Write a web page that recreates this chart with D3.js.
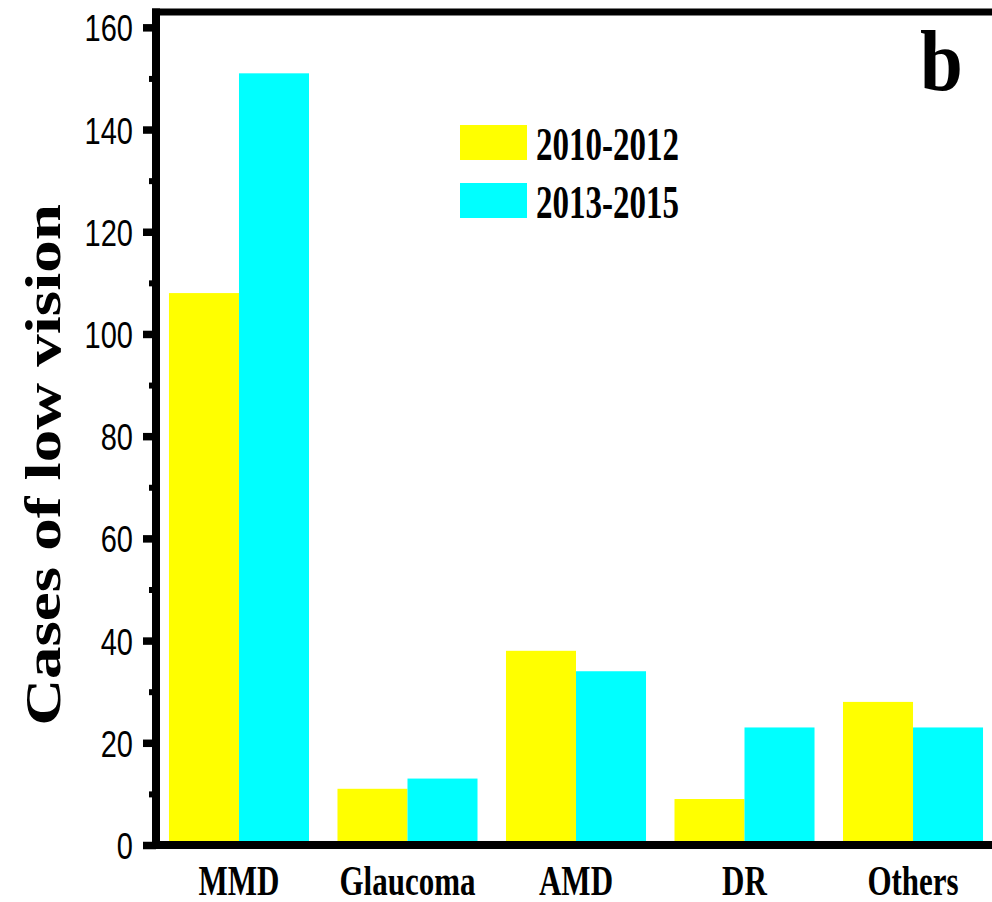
<!DOCTYPE html>
<html>
<head>
<meta charset="utf-8">
<script src="https://cdn.jsdelivr.net/npm/d3@7/dist/d3.min.js"></script>
<style>
  html, body { margin: 0; padding: 0; background: #fff; }
  svg { display: block; }
</style>
</head>
<body>
<svg id="chart" width="992" height="902"></svg>
<script>
// Low-vision cases by cause, two periods
const categories = ["MMD", "Glaucoma", "AMD", "DR", "Others"];
const seriesNames = ["2010-2012", "2013-2015"];
const values2010_2012 = [108, 11, 38, 9, 28];
const values2013_2015 = [151, 13, 34, 23, 23];
const majorTicks = [0, 20, 40, 60, 80, 100, 120, 140, 160];
const minorTicks = [10, 30, 50, 70, 90, 110, 130, 150];
const colors = ["#FFFF00", "#00FFFF"];

const seriesValues = [values2010_2012, values2013_2015];
const rows = categories.map((c, i) => ({
  category: c,
  values: seriesNames.map((s, k) => ({ series: s, value: seriesValues[k][i], color: colors[k] }))
}));

const svg = d3.select("#chart");
const axisX = 156, axisBottom = 845, frameTop = 12;
const serif = "'Liberation Serif','Times New Roman',Times,serif";
const sans = "'Liberation Sans',Arial,Helvetica,sans-serif";

const y = d3.scaleLinear().domain([0, 163]).range([axisBottom, frameTop]);
const x = d3.scaleBand().domain(categories).range([axisX, 996])
  .paddingInner(0.169).paddingOuter(0.077);
const xInner = d3.scaleBand().domain(seriesNames).range([0, x.bandwidth()]).padding(0);

// Bars
const groups = svg.append("g").selectAll("g").data(rows).join("g")
  .attr("transform", d => `translate(${x(d.category)},0)`);
groups.selectAll("rect").data(d => d.values).join("rect")
  .attr("x", d => xInner(d.series))
  .attr("width", xInner.bandwidth())
  .attr("y", d => y(d.value))
  .attr("height", d => y(0) - y(d.value))
  .attr("fill", d => d.color);

// Minor ticks
const minorAxis = d3.axisLeft(y).tickValues(minorTicks).tickSize(7).tickFormat("");
const gMinor = svg.append("g").attr("transform", `translate(${axisX},0)`).call(minorAxis);
gMinor.select(".domain").remove();
gMinor.selectAll(".tick line").attr("stroke", "#000").attr("stroke-width", 6);

// Major ticks and labels
const majorAxis = d3.axisLeft(y).tickValues(majorTicks).tickSize(13).tickPadding(10).tickSizeOuter(0);
const gMajor = svg.append("g").attr("transform", `translate(${axisX},0)`).call(majorAxis);
gMajor.select(".domain").remove();
gMajor.selectAll(".tick line").attr("stroke", "#000").attr("stroke-width", 7.5);
gMajor.selectAll(".tick text")
  .attr("x", -23)
  .attr("dy", "0.36em")
  .attr("font-family", sans)
  .attr("font-size", 29)
  .attr("fill", "#000")
  .attr("transform", "scale(1,1.3)");

// Frame lines
svg.append("line").attr("x1", axisX).attr("x2", axisX)
  .attr("y1", frameTop - 3.5).attr("y2", axisBottom + 4)
  .attr("stroke", "#000").attr("stroke-width", 8);
svg.append("line").attr("x1", axisX - 4).attr("x2", 1000)
  .attr("y1", axisBottom).attr("y2", axisBottom)
  .attr("stroke", "#000").attr("stroke-width", 8);
svg.append("line").attr("x1", axisX - 4).attr("x2", 1000)
  .attr("y1", frameTop).attr("y2", frameTop)
  .attr("stroke", "#000").attr("stroke-width", 7);

// Category labels
svg.append("g").selectAll("g").data(categories).join("g")
  .attr("transform", d => `translate(${x(d) + x.bandwidth() / 2},895) scale(1,1.33)`)
  .append("text")
  .attr("text-anchor", "middle")
  .attr("font-family", serif)
  .attr("font-weight", "bold")
  .attr("font-size", 31)
  .attr("fill", "#000")
  .text(d => d);

// Y axis title
svg.append("g")
  .attr("transform", "translate(60,465) rotate(-90) scale(1.3,1)")
  .append("text")
  .attr("text-anchor", "middle")
  .attr("font-family", serif)
  .attr("font-weight", "bold")
  .attr("font-size", 50)
  .attr("fill", "#000")
  .text("Cases of low vision");

// Legend
const legend = svg.append("g").selectAll("g").data(seriesNames).join("g")
  .attr("transform", (d, i) => `translate(460,${125 + i * 58})`);
legend.append("rect").attr("width", 67).attr("height", 35)
  .attr("fill", (d, i) => colors[i]);
legend.append("g").attr("transform", "translate(76,35) scale(1,1.4)")
  .append("text")
  .attr("font-family", serif)
  .attr("font-weight", "bold")
  .attr("font-size", 33)
  .attr("fill", "#000")
  .text(d => d);

// Panel letter
svg.append("g").attr("transform", "translate(920,90) scale(1,1.12)")
  .append("text")
  .attr("font-family", serif)
  .attr("font-weight", "bold")
  .attr("font-size", 77)
  .attr("fill", "#000")
  .text("b");
</script>
</body>
</html>
